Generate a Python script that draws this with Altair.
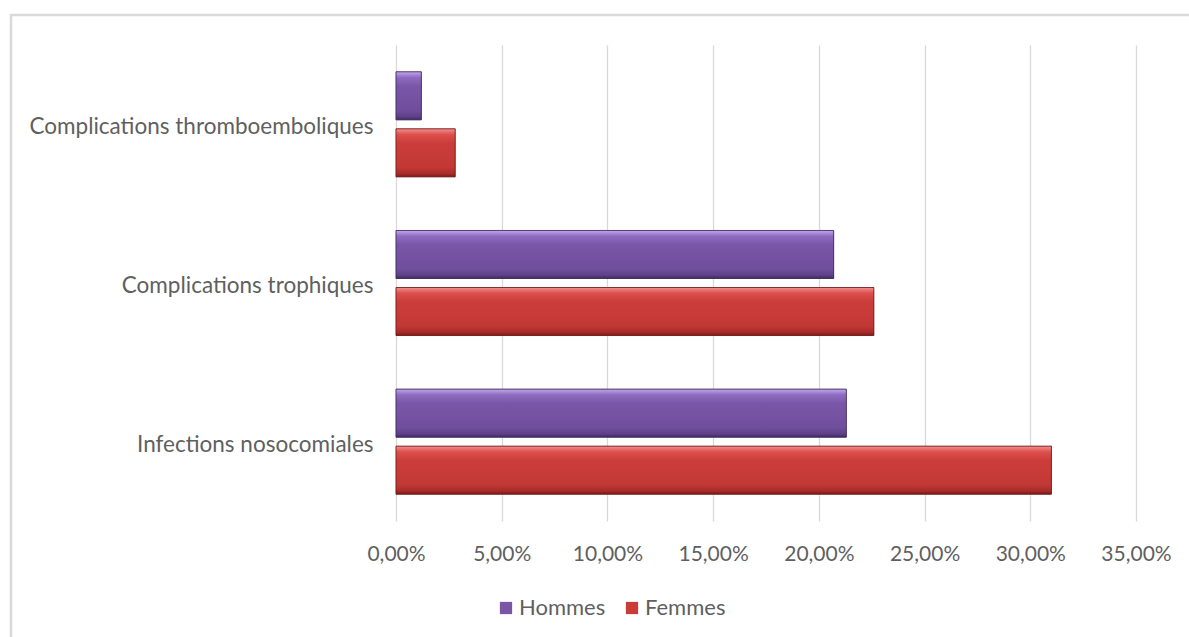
import altair as alt
import pandas as pd

categories = ["Complications thromboemboliques", "Complications trophiques", "Infections nosocomiales"]
series = ["Hommes", "Femmes"]
hommes = [0.012, 0.207, 0.213]
femmes = [0.028, 0.226, 0.310]
x_ticks = [0, 0.05, 0.10, 0.15, 0.20, 0.25, 0.30, 0.35]

rows = []
for c, h, f in zip(categories, hommes, femmes):
    rows.append({"cat": c, "sexe": "Hommes", "val": h})
    rows.append({"cat": c, "sexe": "Femmes", "val": f})
df = pd.DataFrame(rows)

FONT = "Lato"
GREY = "#5f5f5f"
purple = "#7a55a6"
red = "#c93c3a"

x_enc = alt.X("val:Q", scale=alt.Scale(domain=[0, 0.35], nice=False, zero=True),
              axis=alt.Axis(values=x_ticks, title=None, domain=False, ticks=False,
                            labelExpr="replace(format(datum.value, '.2%'), '.', ',')",
                            labelPadding=22, labelFontSize=21, labelColor=GREY,
                            labelFont=FONT, labelFlush=False, labelOverlap=False,
                            grid=True, gridColor="#d9d9d9", gridWidth=1.3))
y_enc = alt.Y("cat:N", sort=categories,
              scale=alt.Scale(domain=categories, paddingInner=0.338, paddingOuter=0.169),
              axis=alt.Axis(title=None, domain=False, ticks=False, labelPadding=23,
                            labelOffset=3,
                            labelFontSize=22.5, labelColor=GREY, labelFont=FONT,
                            labelLimit=400))
yoff = alt.YOffset("sexe:N", sort=series,
                   scale=alt.Scale(domain=series, paddingInner=0.158, paddingOuter=0))

base = alt.Chart(df)

bars = base.mark_bar(stroke="#00000033", strokeWidth=1).encode(
    x=x_enc, y=y_enc, yOffset=yoff,
    color=alt.Color("sexe:N", sort=series,
                    scale=alt.Scale(domain=series, range=[purple, red]),
                    legend=alt.Legend(title=None, orient="none", direction="horizontal",
                                      legendX=99, legendY=552, symbolType="square",
                                      symbolSize=150, symbolStrokeWidth=0,
                                      labelFontSize=22, labelColor=GREY, labelFont=FONT,
                                      labelOffset=2, columnPadding=15)),
)

def grad(stops):
    return alt.Gradient(gradient="linear", x1=0, y1=0, x2=0, y2=1,
                        stops=[alt.GradientStop(color=c, offset=o) for o, c in stops])

purple_grad = grad([(0, "#c3a6ee"), (0.12, "#8d6cc0"), (0.3, "#7a56a8"),
                    (0.8, "#704e9c"), (0.93, "#5f4089"), (1, "#3f2a60")])
red_grad = grad([(0, "#f59090"), (0.12, "#dc4f4c"), (0.3, "#cb3d3b"),
                 (0.8, "#c23835"), (0.93, "#a82c2a"), (1, "#7a1c1a")])

over_h = base.mark_bar(color=purple_grad, stroke="#3c2a5a", strokeWidth=0.8).encode(
    x=alt.X("val:Q"), y=alt.Y("cat:N", sort=categories), yOffset=alt.YOffset("sexe:N", sort=series)
).transform_filter(alt.datum.sexe == "Hommes")
over_f = base.mark_bar(color=red_grad, stroke="#6e1a18", strokeWidth=0.8).encode(
    x=alt.X("val:Q"), y=alt.Y("cat:N", sort=categories), yOffset=alt.YOffset("sexe:N", sort=series)
).transform_filter(alt.datum.sexe == "Femmes")

border = alt.Chart(pd.DataFrame({"a": [0]})).mark_rect(
    filled=False, stroke="#d9d9d9", strokeWidth=2.5
).encode(x=alt.value(-385), x2=alt.value(900), y=alt.value(-30), y2=alt.value(700))

chart = alt.layer(border, bars, over_h, over_f).properties(
    width=740, height=476,
    autosize=alt.AutoSizeParams(type="none"),
    padding={"left": 396, "top": 45, "right": 53, "bottom": 116},
    background="white",
).configure_view(stroke=None)

chart.save("out.html", embed_options={"renderer": "svg", "actions": False})
